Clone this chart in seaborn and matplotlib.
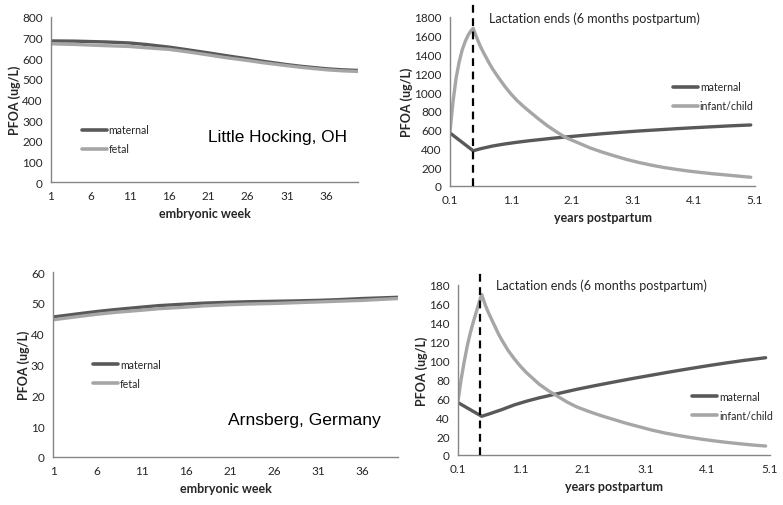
import numpy as np
import pandas as pd
import matplotlib
matplotlib.use("Agg")
import matplotlib.pyplot as plt
import seaborn as sns

# ---------------- data ----------------
weeks = [1, 4, 6, 8, 11, 13, 16, 18, 21, 23, 26, 28, 31, 33, 36, 38, 40]
lh_maternal = [684, 683, 681, 679, 674, 667, 654, 643, 626, 614, 597, 585, 569, 560, 549, 544, 541]
lh_fetal = [670, 667, 664, 661, 657, 651, 643, 633, 616, 604, 589, 578, 564, 555, 544, 539, 536]
ar_maternal = [45.4, 46.5, 47.2, 47.8, 48.6, 49.1, 49.6, 49.9, 50.2, 50.35, 50.5, 50.6, 50.8, 51.0, 51.4, 51.6, 51.8]
ar_fetal = [44.5, 45.6, 46.3, 46.9, 47.6, 48.1, 48.6, 49.0, 49.4, 49.6, 49.8, 50.0, 50.3, 50.5, 50.8, 51.1, 51.4]

years_inf = [0.1, 0.15, 0.2, 0.25, 0.3, 0.35, 0.4, 0.44, 0.48, 0.52, 0.56, 0.6, 0.65, 0.7,
             0.75, 0.8, 0.9, 1.0, 1.1, 1.2, 1.3, 1.4, 1.55, 1.7, 1.85, 2.0, 2.2, 2.4, 2.6,
             2.8, 3.0, 3.2, 3.4, 3.6, 3.8, 4.0, 4.2, 4.4, 4.6, 4.8, 5.03]
lhp_infant = [580, 900, 1150, 1320, 1450, 1540, 1610, 1650, 1680, 1610, 1545, 1485, 1420, 1360,
              1300, 1245, 1150, 1060, 980, 910, 850, 795, 715, 640, 575, 515, 460, 405, 360,
              320, 282, 250, 222, 198, 178, 160, 145, 131, 119, 107, 93]
arp_infant = [57, 80, 99, 116, 130, 142, 153, 162, 170, 162, 155, 149, 142, 135,
              128, 122, 111, 102, 94, 87, 81, 75, 68, 62, 56, 51, 46, 41.5, 37.5,
              33.5, 30, 26.5, 23.5, 21, 18.8, 16.8, 15, 13.4, 12, 10.7, 9.5]

years_mat = [0.1, 0.48, 0.6, 0.8, 1.0, 1.2, 1.4, 1.6, 1.8, 2.0, 2.3, 2.6, 2.9, 3.2, 3.5,
             3.8, 4.1, 4.4, 4.7, 5.03]
lhp_maternal = [565, 375, 397, 426, 448, 466, 482, 496, 510, 522, 540, 557, 572, 586, 598,
                610, 621, 631, 641, 650]
arp_maternal = [55.5, 41, 43.5, 48, 53, 57, 60.5, 63.5, 66.5, 69.5, 73.5, 77.3, 81, 84.5, 88,
                91.3, 94.5, 97.5, 100.3, 103]

week_ticks = [1, 6, 11, 16, 21, 26, 31, 36]
year_ticks = [0.1, 1.1, 2.1, 3.1, 4.1, 5.1]
lactation_end = [0.48, 0.45]

# ---------------- style ----------------
sns.set_style("white")
plt.rcParams["font.family"] = ["Lato", "DejaVu Sans"]

DARK = "#595959"
LIGHT = "#a6a6a6"
AXC = "#868686"
TXT = "#262626"

fig = plt.figure(figsize=(7.83, 5.06), dpi=100)
W, H = 783, 506


def add_ax(l, r, t, b):
    return fig.add_axes([l / W, (H - b) / H, (r - l) / W, (b - t) / H])


ax_tl = add_ax(51, 358, 18, 183)
ax_tr = add_ax(450, 755, 18, 187)
ax_bl = add_ax(53, 398, 273, 458)
ax_br = add_ax(458, 770, 286, 456)


def long_df(xa, a, xb, b, la, lb):
    return pd.DataFrame({
        "x": list(xa) + list(xb),
        "y": list(a) + list(b),
        "series": [la] * len(xa) + [lb] * len(xb),
    })


def style_ax(ax):
    for s in ["top", "right"]:
        ax.spines[s].set_visible(False)
    for s in ["left", "bottom"]:
        ax.spines[s].set_color(AXC)
        ax.spines[s].set_linewidth(1.0)
    ax.tick_params(axis="both", direction="out", length=3, width=0.8,
                   color=AXC, labelsize=8.5, labelcolor=TXT, pad=3)
    ax.grid(False)


def panel(ax, df, labels, xlim, xticks, ylim, yticks, xlabel, legend_anchor, xfmt):
    sns.lineplot(data=df, x="x", y="y", hue="series", hue_order=labels,
                 palette=[DARK, LIGHT], linewidth=2.4, ax=ax, legend=True,
                 sort=False, estimator=None)
    ax.set_xlim(*xlim)
    ax.set_ylim(*ylim)
    ax.set_xticks(xticks)
    ax.set_xticklabels([xfmt(v) for v in xticks])
    ax.set_yticks(yticks)
    ax.set_yticklabels([str(v) for v in yticks])
    ax.set_xlabel(xlabel, fontsize=9, fontweight="bold", color=TXT, labelpad=4)
    ax.set_ylabel("PFOA (ug/L)", fontsize=9, fontweight="bold", color=TXT, labelpad=1)
    style_ax(ax)
    handles, labs = ax.get_legend_handles_labels()
    ax.legend(handles, labs, loc="center left", bbox_to_anchor=legend_anchor,
              frameon=False, fontsize=7.6, handlelength=2.4, handletextpad=0.15,
              labelspacing=0.75, borderpad=0, borderaxespad=0)
    for t in ax.get_legend().get_texts():
        t.set_color(TXT)
    for ln in ax.get_legend().get_lines():
        ln.set_linewidth(2.6)


wk_fmt = lambda v: str(v)
yr_fmt = lambda v: f"{v:.1f}"

panel(ax_tl, long_df(weeks, lh_maternal, weeks, lh_fetal, "maternal", "fetal"),
      ["maternal", "fetal"], (1, 40), week_ticks, (0, 800),
      list(range(0, 801, 100)), "embryonic week", (0.10, 0.258), wk_fmt)
panel(ax_bl, long_df(weeks, ar_maternal, weeks, ar_fetal, "maternal", "fetal"),
      ["maternal", "fetal"], (1, 40), week_ticks, (0, 60),
      list(range(0, 61, 10)), "embryonic week", (0.116, 0.449), wk_fmt)
panel(ax_tr, long_df(years_mat, lhp_maternal, years_inf, lhp_infant, "maternal", "infant/child"),
      ["maternal", "infant/child"], (0.1, 5.1), year_ticks, (0, 1800),
      list(range(0, 1801, 200)), "years postpartum", (0.731, 0.53), yr_fmt)
panel(ax_br, long_df(years_mat, arp_maternal, years_inf, arp_infant, "maternal", "infant/child"),
      ["maternal", "infant/child"], (0.1, 5.1), year_ticks, (0, 180),
      list(range(0, 181, 20)), "years postpartum", (0.75, 0.288), yr_fmt)

# dashed lactation lines
ax_tr.axvline(lactation_end[0], ymin=0, ymax=1.095, color="black", lw=1.6,
              ls=(0, (3.5, 2.5)), clip_on=False, zorder=5)
ax_br.axvline(lactation_end[1], ymin=0, ymax=1.076, color="black", lw=1.6,
              ls=(0, (3.5, 2.5)), clip_on=False, zorder=5)

ax_tr.text(0.128, 0.995, "Lactation ends (6 months postpartum)", transform=ax_tr.transAxes,
           ha="left", va="center", fontsize=9.1, color=TXT)
ax_br.text(0.122, 1.0, "Lactation ends (6 months postpartum)", transform=ax_br.transAxes,
           ha="left", va="center", fontsize=9.1, color=TXT)

ax_tl.text(0.511, 0.273, "Little Hocking, OH", transform=ax_tl.transAxes,
           ha="left", va="center", fontsize=12.4, color="black",
           family=["Liberation Sans", "DejaVu Sans"])
ax_bl.text(0.507, 0.205, "Arnsberg, Germany", transform=ax_bl.transAxes,
           ha="left", va="center", fontsize=12.6, color="black",
           family=["Liberation Sans", "DejaVu Sans"])

fig.savefig("out.png", dpi=100)
